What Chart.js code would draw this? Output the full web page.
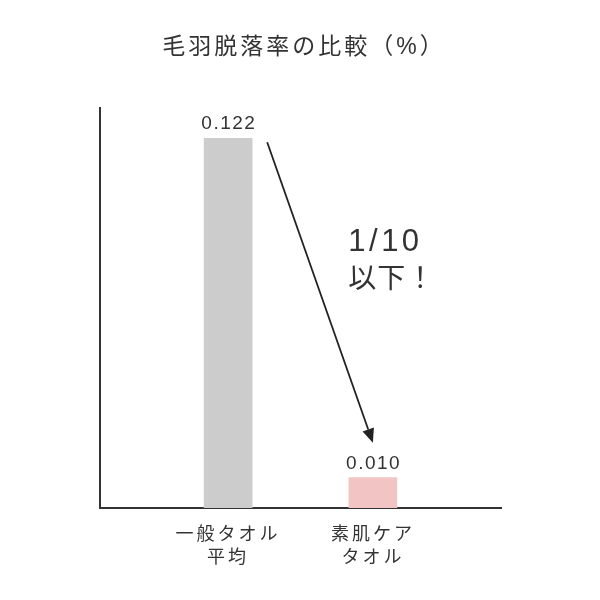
<!DOCTYPE html>
<html><head><meta charset="utf-8">
<script src="https://cdn.jsdelivr.net/npm/chart.js@4"></script>
<style>html,body{margin:0;padding:0;background:#fff}#wrap{width:600px;height:600px}</style>
</head><body><div id="wrap"><canvas id="c"></canvas></div>
<script>
const categories = [["一般タオル","平均"],["素肌ケア","タオル"]];
const values = [0.122, 0.010];
const valueLabels = ["0.122","0.010"];
const barColors = ["#cccccc","#f2c4c4"];
const titleText = "毛羽脱落率の比較（%）";
const noteLines = ["1/10","以下！"];

const FONT = '"Liberation Sans","Noto Sans CJK JP",sans-serif';
const TXT = '#333333';

function spacedText(ctx, text, x, y, spacing, align){
  ctx.letterSpacing = spacing + 'px';
  const w = ctx.measureText(text).width - spacing;
  let sx = x;
  if (align === 'center') sx = x - w/2;
  ctx.textAlign = 'left';
  ctx.fillText(text, sx, y);
  ctx.letterSpacing = '0px';
}

const spacing = {
  id:'spacing',
  beforeDraw(chart){ chart.ctx.letterSpacing = '3px'; },
  afterDraw(chart){ chart.ctx.letterSpacing = '0px'; }
};

const annot = {
  id:'annot',
  afterDatasetsDraw(chart){
    const ctx = chart.ctx, xs = chart.scales.x, ys = chart.scales.y;
    ctx.save();
    ctx.fillStyle = TXT; ctx.textBaseline='middle';
    // title
    ctx.font = '23px '+FONT;
    spacedText(ctx, titleText, (chart.chartArea.left+chart.chartArea.right)/2 + 2, 48, 3, 'center');
    // value labels
    ctx.font = '19px '+FONT; ctx.textBaseline='alphabetic';
    values.forEach((v,i)=>{ spacedText(ctx, valueLabels[i], xs.getPixelForValue(i), ys.getPixelForValue(v)-9, 1.5, 'center'); });
    // arrow
    const x1 = xs.getPixelForValue(0.27), y1 = ys.getPixelForValue(0.1207);
    const x2 = xs.getPixelForValue(1.0), y2 = ys.getPixelForValue(0.0215);
    const ang = Math.atan2(y2-y1, x2-x1), hl = 14;
    const bx = x2 - hl*Math.cos(ang), by = y2 - hl*Math.sin(ang);
    ctx.strokeStyle = '#222'; ctx.lineWidth = 1.8;
    ctx.beginPath(); ctx.moveTo(x1,y1); ctx.lineTo(bx,by); ctx.stroke();
    ctx.fillStyle = '#222';
    ctx.beginPath(); ctx.moveTo(x2,y2);
    ctx.lineTo(bx + 6*Math.sin(ang), by - 6*Math.cos(ang));
    ctx.lineTo(bx - 6*Math.sin(ang), by + 6*Math.cos(ang));
    ctx.closePath(); ctx.fill();
    // note
    ctx.fillStyle = TXT; ctx.textBaseline='middle';
    ctx.font = '31px '+FONT;
    spacedText(ctx, noteLines[0], xs.getPixelForValue(0.83), ys.getPixelForValue(0.0876), 3.5, 'left');
    ctx.font = '28px '+FONT;
    spacedText(ctx, noteLines[1], xs.getPixelForValue(0.83), ys.getPixelForValue(0.075), 1, 'left');
    ctx.restore();
  }
};

new Chart(document.getElementById('c'), {
  type:'bar',
  data:{ datasets:[{ data: values.map((v,i)=>({x:i,y:v})), backgroundColor: barColors, barThickness:48 }]},
  options:{
    responsive:true, maintainAspectRatio:false, animation:false,
    layout:{ padding:{ left:100, right:99, top:108, bottom:14 } },
    plugins:{ legend:{display:false}, tooltip:{enabled:false}, title:{display:false} },
    scales:{
      x:{ type:'linear', min:-0.885, max:1.885, offset:false,
        afterBuildTicks(s){ s.ticks = categories.map((c,i)=>({value:i})); },
        ticks:{ callback:(v)=>categories[v], color:TXT, font:{family:FONT, size:18, lineHeight:1.28}, padding:16, maxRotation:0, autoSkip:false },
        grid:{ display:false, drawTicks:false }, border:{ display:true, color:'#333', width:2 } },
      y:{ min:0, max:0.132, ticks:{ display:false }, grid:{ display:false, drawTicks:false }, border:{ display:true, color:'#333', width:2 } }
    }
  },
  plugins:[spacing, annot]
});
</script></body></html>
